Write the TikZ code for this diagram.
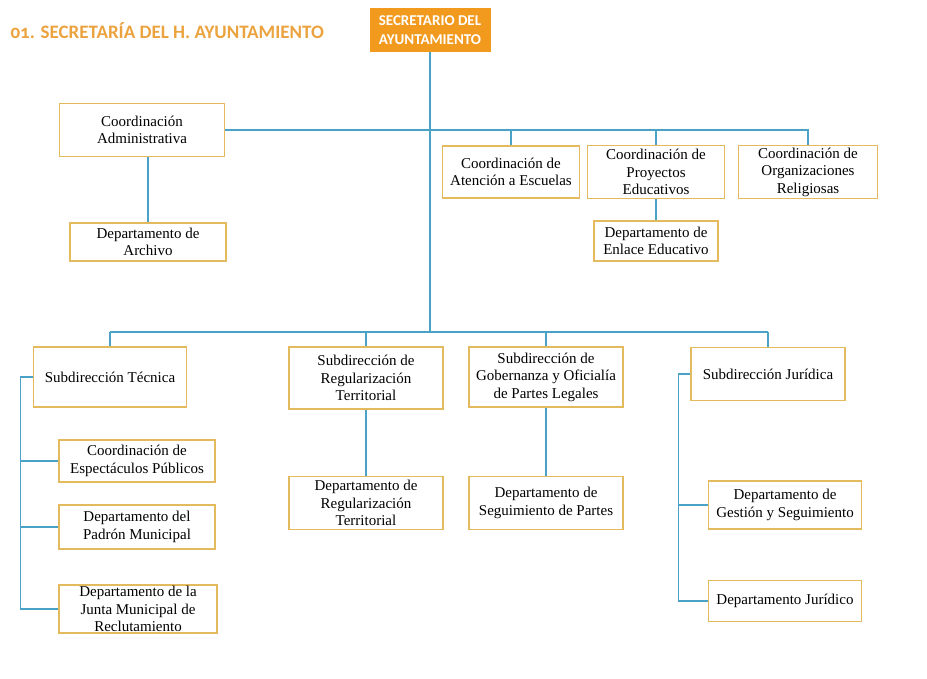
\documentclass[tikz,border=0pt]{standalone}
\usepackage{fontspec}
\setmainfont{Liberation Serif}
\newfontfamily\headfont[Numbers=OldStyle]{Carlito}
\usepackage{tikz}
\usetikzlibrary{positioning,calc}
\definecolor{headorange}{HTML}{F29A1E}
\definecolor{titleorange}{HTML}{EBA33F}
\definecolor{boxgold}{HTML}{E3BA5E}
\definecolor{linkblue}{HTML}{4AA3C6}
\tikzstyle{unit} = [rectangle, draw=boxgold, line width=1.5pt, fill=white, align=center, inner sep=1pt, font=\fontsize{15}{17.5}\selectfont]
\tikzstyle{head} = [rectangle, fill=headorange, text=white, align=center, font=\headfont\bfseries\fontsize{15}{19}\selectfont, minimum width=121pt, minimum height=44pt, inner sep=1pt]
\tikzstyle{link} = [draw=linkblue, line width=1.4pt]

\begin{document}
\begin{tikzpicture}[x=1pt, y=-1pt]
            \useasboundingbox (0,0) rectangle (927,679);
            \node[anchor=west, text=titleorange, font=\headfont\bfseries\fontsize{19}{22}\selectfont] (title) at (7,31) {01. SECRETARÍA DEL H. AYUNTAMIENTO};
            \node[head] (sec) at (430,30) {SECRETARIO DEL\\AYUNTAMIENTO};

            % first level
            \node[unit, minimum width=165pt, minimum height=53pt] (cadm) at (142,130) {Coordinación\\Administrativa};
            \node[unit, minimum width=156pt, minimum height=38pt] (darch) at (148,242) {Departamento de\\Archivo};
            \node[unit, minimum width=137pt, minimum height=52pt] (cesc) at (511,172) {Coordinación de\\Atención a Escuelas};
            \node[unit, minimum width=137pt, minimum height=53pt] (cproy) at (656,172) {Coordinación de\\Proyectos\\Educativos};
            \node[unit, minimum width=124pt, minimum height=40pt] (denl) at (656,241) {Departamento de\\Enlace Educativo};
            \node[unit, minimum width=139pt, minimum height=53pt] (crel) at (808,172) {Coordinación de\\Organizaciones\\Religiosas};

            % subdirecciones
            \node[unit, minimum width=153pt, minimum height=60pt] (stec) at (110,377) {Subdirección Técnica};
            \node[unit, minimum width=154pt, minimum height=62pt] (sreg) at (366,378) {Subdirección de\\Regularización\\Territorial};
            \node[unit, minimum width=154pt, minimum height=60pt] (sgob) at (546,377) {Subdirección de\\Gobernanza y Oficialía\\de Partes Legales};
            \node[unit, minimum width=154pt, minimum height=53pt] (sjur) at (768,374) {Subdirección Jurídica};

            \node[unit, minimum width=156pt, minimum height=42pt] (cesp) at (137,461) {Coordinación de\\Espectáculos Públicos};
            \node[unit, minimum width=156pt, minimum height=44pt] (dpad) at (137,527) {Departamento del\\Padrón Municipal};
            \node[unit, minimum width=158pt, minimum height=46pt] (djun) at (138,609) {Departamento de la\\Junta Municipal de\\Reclutamiento};
            \node[unit, minimum width=154pt, minimum height=53pt] (dreg) at (366,503) {Departamento de\\Regularización\\Territorial};
            \node[unit, minimum width=154pt, minimum height=53pt] (dseg) at (546,503) {Departamento de\\Seguimiento de Partes};
            \node[unit, minimum width=153pt, minimum height=48pt] (dges) at (785,505) {Departamento de\\Gestión y Seguimiento};
            \node[unit, minimum width=153pt, minimum height=41pt] (djur) at (785,601) {Departamento Jurídico};

            \coordinate (hub) at (430,130);
            \coordinate (bar) at (430,332);

            % connectors
            \draw[link] (sec.south) -- (bar);
            \draw[link] (cadm.east) -- (crel.north |- hub) -- (crel.north);
            \draw[link] (cesc.north |- hub) -- (cesc.north);
            \draw[link] (cproy.north |- hub) -- (cproy.north);
            \draw[link] (cproy.south) -- (denl.north);
            \draw[link] (darch.north) -- (darch.north |- cadm.south);
            \draw[link] (stec.north |- bar) -- (sjur.north |- bar);
            \draw[link] (stec.north |- bar) -- (stec.north);
            \draw[link] (sreg.north |- bar) -- (sreg.north);
            \draw[link] (sgob.north |- bar) -- (sgob.north);
            \draw[link] (sjur.north |- bar) -- (sjur.north);
            \draw[link] (sreg.south) -- (dreg.north);
            \draw[link] (sgob.south) -- (dseg.north);
            \draw[link] (stec.west) -- ++(-12,0) |- (djun.west);
            \draw[link] (cesp.west) -- ++(-37,0);
            \draw[link] (dpad.west) -- ++(-37,0);
            \draw[link] (sjur.west) -- ++(-12,0) |- (djur.west);
            \draw[link] (dges.west) -- ++(-30,0);
            \end{tikzpicture}
\end{document}
